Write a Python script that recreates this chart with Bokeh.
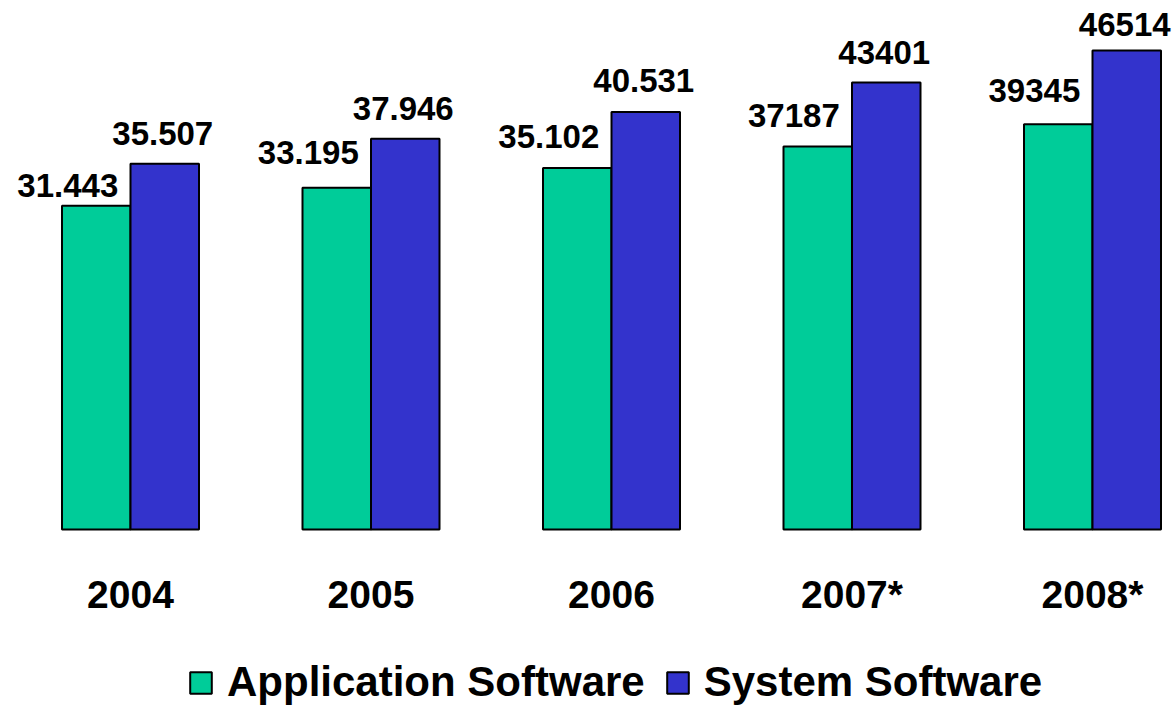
from bokeh.plotting import figure
from bokeh.models import ColumnDataSource, Range1d, LabelSet, Legend, LegendItem
from bokeh.transform import dodge
from bokeh.core.properties import value
from bokeh.embed import file_html
from bokeh.resources import INLINE

# ---- data ----
years = ["2004", "2005", "2006", "2007*", "2008*"]
application = [31443, 33195, 35102, 37187, 39345]
system = [35507, 37946, 40531, 43401, 46514]
application_labels = ["31.443", "33.195", "35.102", "37187", "39345"]
system_labels = ["35.507", "37.946", "40.531", "43401", "46514"]

# ---- styles / layout ----
GREEN = "#00CC99"
BLUE = "#3333CC"
FONT = "Liberation Sans"
W, H = 1176, 706
PX_PER_GROUP = 240.5          # horizontal pixels between year groups
FIRST_GROUP_PX = 130          # frame x of first group centre
BASELINE_PX = 529             # frame y (from top) of the zero line
PX_PER_UNIT = 479.0 / 46514   # vertical scale
BAR_W = 68.5 / PX_PER_GROUP

x0 = -FIRST_GROUP_PX / PX_PER_GROUP
x1 = x0 + W / PX_PER_GROUP
y1 = BASELINE_PX / PX_PER_UNIT
y0 = -(H - BASELINE_PX) / PX_PER_UNIT

app_lift = [9, 24, 20, 20, 22]
sys_lift = [19, 19, 20, 19, 15]

src = ColumnDataSource(dict(
    x=list(range(len(years))),
    year=years,
    app=application,
    sys=system,
    app_lbl=application_labels,
    sys_lbl=system_labels,
    app_lift=app_lift,
    sys_lift=sys_lift,
    zero=[0] * len(years),
))

p = figure(width=W, height=H, output_backend="svg", toolbar_location=None,
           x_range=Range1d(x0, x1), y_range=Range1d(y0, y1),
           x_axis_type=None, y_axis_type=None, min_border=0,
           outline_line_color=None, background_fill_color="white",
           border_fill_color="white")
p.grid.visible = False

r_app = p.vbar(x=dodge("x", -BAR_W / 2, range=p.x_range), top="app", bottom=0,
               width=BAR_W, source=src, fill_color=GREEN, line_color="black",
               line_width=2)
r_sys = p.vbar(x=dodge("x", BAR_W / 2, range=p.x_range), top="sys", bottom=0,
               width=BAR_W, source=src, fill_color=BLUE, line_color="black",
               line_width=2)

app_labels = LabelSet(x=dodge("x", -BAR_W / 2, range=p.x_range), y="app",
                      text="app_lbl", source=src, x_offset=22, y_offset="app_lift",
                      text_align="right", text_baseline="alphabetic",
                      text_font=value(FONT), text_font_style="bold",
                      text_font_size="33px", text_color="black")
sys_labels = LabelSet(x=dodge("x", BAR_W / 2, range=p.x_range), y="sys",
                      text="sys_lbl", source=src, x_offset=-2, y_offset="sys_lift",
                      text_align="center", text_baseline="alphabetic",
                      text_font=value(FONT), text_font_style="bold",
                      text_font_size="33px", text_color="black")
year_labels = LabelSet(x="x", y="zero", text="year", source=src, y_offset=-78,
                       text_align="center", text_baseline="alphabetic",
                       text_font=value(FONT), text_font_style="bold",
                       text_font_size="39px", text_color="black")
p.add_layout(app_labels)
p.add_layout(sys_labels)
p.add_layout(year_labels)

legend = Legend(items=[LegendItem(label="Application Software", renderers=[r_app]),
                       LegendItem(label="System Software", renderers=[r_sys])],
                orientation="horizontal", location=(187, 0),
                glyph_width=27, glyph_height=27, label_standoff=13, spacing=19,
                padding=0, margin=0, border_line_color=None,
                background_fill_alpha=0,
                label_text_font=FONT, label_text_font_style="bold",
                label_text_font_size="42px", label_text_color="black")
p.add_layout(legend)

open("out.html", "w").write(file_html(p, INLINE))
